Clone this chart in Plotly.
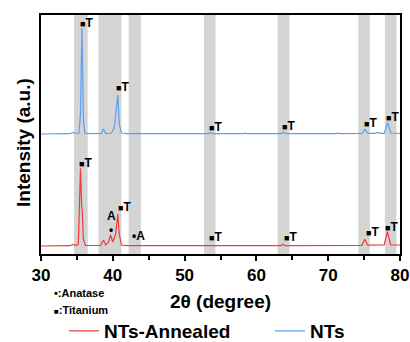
import plotly.graph_objects as go

# ---- data ----
nts_x = [30, 34.0, 34.5, 34.9, 35.3, 35.5, 35.7, 35.9, 36.1, 36.5, 38.4, 38.7, 39.0, 39.8, 40.2, 40.45, 40.7, 40.9, 41.2, 42,
         53.3, 53.6, 53.9, 58.2, 58.4, 58.6, 63.5, 63.8, 64.1, 71.1, 71.3, 71.5, 74.7, 75.1, 75.5, 76.5, 76.9, 77.3, 77.8, 78.3, 78.7, 80]
nts_y = [120, 120.3, 121.5, 120.5, 121, 140, 226, 135, 121, 120.3, 120.5, 125, 120.5, 121, 126, 140, 159, 130, 121, 120.3,
         120.3, 121.5, 120.3, 120.3, 121, 120.3, 120.3, 122, 120.3, 120.3, 121, 120.3, 120.5, 124.7, 120.7, 120.7, 121.3, 120.7, 120.7, 131.3, 121, 120.5]

ann_x = [30, 34.0, 34.5, 34.9, 35.2, 35.5, 35.65, 35.75, 35.9, 36.2, 38.3, 38.7, 39.0, 39.4, 39.7, 40.0, 40.4, 40.7, 40.9, 41.2, 42,
         53.2, 53.5, 53.8, 57.2, 57.4, 57.6, 63.4, 63.7, 64.0, 74.7, 75.1, 75.5, 77.8, 78.25, 78.7, 80]
ann_y = [8, 8.3, 9.5, 8.5, 10, 85.7, 50, 42, 15, 8.5, 8.5, 14, 9, 12, 19, 12, 20, 40, 20, 9, 8.3,
         8.3, 9, 8.3, 8.3, 9, 8.3, 8.3, 9.7, 8.3, 8.7, 14.7, 8.8, 9, 22.3, 9.2, 9]

band_lo = [34.6, 38.0, 42.2, 52.7, 62.95, 74.2, 77.9]
band_hi = [36.5, 41.2, 43.9, 54.3, 64.6, 75.8, 79.5]

t_nts_x = [35.45, 40.4, 53.4, 63.5, 75.0, 78.0]
t_nts_y = [231.3, 167.3, 127, 128.3, 130.7, 137.3]
t_ann_x = [35.35, 40.7, 53.4, 63.8, 75.2, 77.9]
t_ann_y = [91.3, 47.3, 16.7, 17.3, 22.3, 27.3]
a_lbl_x = [39.8, 42.8]
a_lbl_y = [38, 18]
dot_x = [39.8]
dot_y = [24]

x_ticks = [30, 40, 50, 60, 70, 80]

FONT = "Liberation Sans, Arial, sans-serif"
RED = "#ef3b3b"
BLUE = "#5a9ff0"

fig = go.Figure()
fig.add_trace(go.Scatter(x=ann_x, y=ann_y, mode="lines", name="NTs-Annealed",
                         line=dict(color=RED, width=1.2), legend="legend"))
fig.add_trace(go.Scatter(x=nts_x, y=nts_y, mode="lines", name="NTs",
                         line=dict(color=BLUE, width=1.2), legend="legend2"))

for lo, hi in zip(band_lo, band_hi):
    fig.add_shape(type="rect", xref="x", yref="paper", x0=lo, x1=hi, y0=0, y1=1,
                  fillcolor="#d4d4d4", line_width=0, layer="below")

tlabel = "<span style='font-size:9px'>■</span>T"
afont = dict(family=FONT, size=12, color="black", weight="bold")
for xs, ys in ((t_nts_x, t_nts_y), (t_ann_x, t_ann_y)):
    for x, y in zip(xs, ys):
        fig.add_annotation(x=x, y=y, text=tlabel, showarrow=False, xanchor="left",
                           yanchor="middle", font=afont, xshift=-2)
fig.add_annotation(x=a_lbl_x[0], y=a_lbl_y[0], text="A", showarrow=False, xanchor="center",
                   yanchor="middle", font=afont)
fig.add_annotation(x=a_lbl_x[1], y=a_lbl_y[1], text="•A", showarrow=False, xanchor="left",
                   yanchor="middle", font=afont, xshift=-3)
for x, y in zip(dot_x, dot_y):
    fig.add_annotation(x=x, y=y, text="•", showarrow=False, xanchor="center",
                       yanchor="middle", font=dict(family=FONT, size=12, color="black", weight="bold"))

sfont = dict(family=FONT, size=11, color="black", weight="bold")
fig.add_annotation(xref="paper", yref="paper", x=(52 - 41) / 359, y=(254 - 293) / 239,
                   text="•:Anatase", showarrow=False, xanchor="left", yanchor="middle", font=sfont)
fig.add_annotation(xref="paper", yref="paper", x=(52 - 41) / 359, y=(254 - 310) / 239,
                   text="<span style='font-size:8px'>■</span>:Titanium", showarrow=False,
                   xanchor="left", yanchor="middle", font=sfont)

# y-axis title as rotated text
fig.add_annotation(xref="paper", yref="paper", x=(23 - 41) / 359, y=(254 - 143) / 239,
                   text="Intensity (a.u.)", textangle=-90, showarrow=False,
                   xanchor="center", yanchor="middle",
                   font=dict(family=FONT, size=19, color="black", weight="bold"))

legfont = dict(family=FONT, size=19, color="black", weight="bold")
fig.update_layout(
    width=410, height=342,
    margin=dict(l=41, r=10, t=15, b=88, autoexpand=False),
    plot_bgcolor="white", paper_bgcolor="white",
    font=dict(family=FONT, color="black"),
    showlegend=True,
    legend=dict(x=(64 - 41) / 359, xanchor="left",
                y=(254 - 331) / 239, yanchor="middle", font=legfont, bgcolor="rgba(0,0,0,0)"),
    legend2=dict(x=(270 - 41) / 359, xanchor="left",
                 y=(254 - 331) / 239, yanchor="middle", font=legfont, bgcolor="rgba(0,0,0,0)"),
    xaxis=dict(range=[30, 80], tickvals=x_ticks, ticks="outside", ticklen=5, tickwidth=1.5,
               tickcolor="black", automargin=False,
               minor=dict(dtick=5, ticks="outside", ticklen=4, tickwidth=1.5, tickcolor="black"),
               showline=True, linecolor="black", linewidth=2, mirror=True, showgrid=False,
               zeroline=False,
               tickfont=dict(family=FONT, size=17, color="black", weight="bold"),
               title=dict(text="2θ (degree)", standoff=10,
                          font=dict(family=FONT, size=19, color="black", weight="bold"))),
    yaxis=dict(range=[0, 239], showticklabels=False, ticks="", showline=True, linecolor="black",
               linewidth=2, mirror=True, showgrid=False, zeroline=False, automargin=False),
)

fig.write_html("out.html", post_script="document.body.style.margin='0';",
               config={"displayModeBar": False})
